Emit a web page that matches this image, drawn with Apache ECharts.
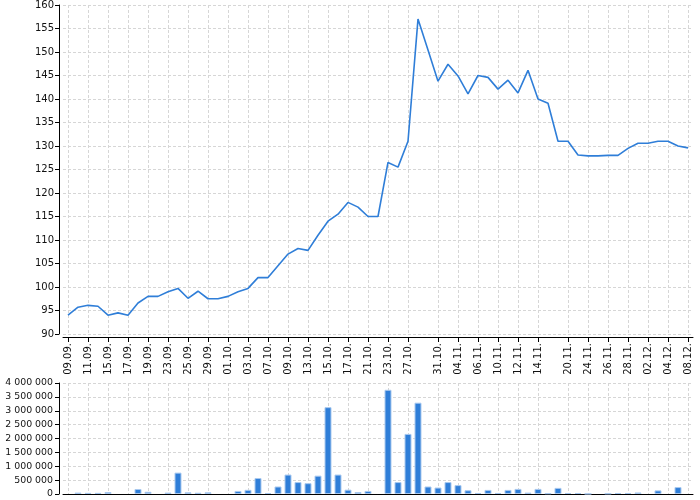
<!DOCTYPE html>
<html>
<head>
<meta charset="utf-8">
<script src="https://cdn.jsdelivr.net/npm/echarts@6/dist/echarts.min.js"></script>
<style>html,body{margin:0;padding:0;background:#fff}#c{width:700px;height:500px}</style>
</head>
<body>
<div id="c"></div>
<script>
const dates = ['09.09.','10.09.','11.09.','12.09.','15.09.','16.09.','17.09.','18.09.','19.09.','22.09.',
  '23.09.','24.09.','25.09.','26.09.','29.09.','30.09.','01.10.','02.10.','03.10.','06.10.',
  '07.10.','08.10.','09.10.','10.10.','13.10.','14.10.','15.10.','16.10.','17.10.','20.10.',
  '21.10.','22.10.','23.10.','24.10.','27.10.','29.10.','30.10.','31.10.','03.11.','04.11.',
  '05.11.','06.11.','07.11.','10.11.','11.11.','12.11.','13.11.','14.11.','18.11.','19.11.',
  '20.11.','21.11.','24.11.','25.11.','26.11.','27.11.','28.11.','01.12.','02.12.','03.12.',
  '04.12.','05.12.','08.12.'];
const tickLabels = ['09.09.','11.09.','15.09.','17.09.','19.09.','23.09.','25.09.','29.09.','01.10.','03.10.',
  '07.10.','09.10.','13.10.','15.10.','17.10.','21.10.','23.10.','27.10.','31.10.','04.11.',
  '06.11.','10.11.','12.11.','14.11.','20.11.','24.11.','26.11.','28.11.','02.12.','04.12.','08.12.'];
const price = [94.0,95.7,96.1,95.9,94.0,94.5,94.0,96.6,98.0,98.0,
  99.0,99.7,97.6,99.1,97.5,97.5,98.0,99.0,99.7,102.0,
  102.0,104.5,107.0,108.2,107.8,111.0,114.0,115.5,118.0,117.0,
  115.0,115.0,126.5,125.5,131.0,157.0,150.4,143.8,147.4,144.9,
  141.1,145.0,144.6,142.1,144.0,141.3,146.1,140.0,139.1,131.0,
  131.0,128.1,127.9,127.9,128.0,128.0,129.5,130.6,130.6,131.0,
  131.0,130.0,129.6];
const volume = [null,50000,40000,40000,70000,null,null,180000,80000,null,
  50000,770000,60000,45000,60000,null,null,110000,150000,575000,
  35000,270000,700000,430000,390000,660000,3130000,700000,155000,70000,
  110000,null,3755000,430000,2165000,3290000,270000,232000,430000,320000,
  135000,37000,147000,37000,147000,183000,50000,183000,25000,220000,
  35000,35000,10000,null,20000,35000,35000,55000,null,130000,
  null,250000,null];

const shown = (i, v) => tickLabels.indexOf(v) >= 0;
const font = 'DejaVu Sans';
const grid1 = {left: 63, width: 630, top: 5, height: 329};
const grid2 = {left: 63, width: 630, top: 383, height: 111};
const dash = {color: '#d6d6d6', type: [3, 2], width: 1};
const fmtSpace = v => String(v).replace(/\B(?=(\d{3})+(?!\d))/g, ' ');

const chart = echarts.init(document.getElementById('c'), null, {renderer: 'canvas'});
chart.setOption({
  animation: false,
  backgroundColor: '#fff',
  grid: [grid1, grid2],
  xAxis: [{
    type: 'category', gridIndex: 0, data: dates, boundaryGap: true, offset: 3,
    axisLine: {lineStyle: {color: '#000', width: 1}},
    axisTick: {show: true, interval: shown, alignWithLabel: true, length: 5, lineStyle: {color: '#000'}},
    axisLabel: {interval: shown, rotate: 90, margin: 6, color: '#111', fontFamily: font, fontSize: 10},
    splitLine: {show: true, interval: shown, alignWithLabel: true, lineStyle: dash}
  }, {
    type: 'category', gridIndex: 1, data: dates, boundaryGap: true,
    axisLine: {lineStyle: {color: '#000', width: 1}},
    axisTick: {show: false},
    axisLabel: {show: false},
    splitLine: {show: true, interval: shown, alignWithLabel: true, lineStyle: dash}
  }],
  yAxis: [{
    type: 'value', gridIndex: 0, min: 90, max: 160, interval: 5, offset: 4,
    axisLine: {show: true, lineStyle: {color: '#000', width: 1}},
    axisTick: {show: true, length: 4, lineStyle: {color: '#000'}},
    axisLabel: {margin: 5, color: '#111', fontFamily: font, fontSize: 10},
    splitLine: {show: true, lineStyle: dash}
  }, {
    type: 'value', gridIndex: 1, min: 0, max: 4000000, interval: 500000, offset: 4,
    axisLine: {show: true, lineStyle: {color: '#000', width: 1}},
    axisTick: {show: true, length: 4, lineStyle: {color: '#000'}},
    axisLabel: {margin: 6, color: '#111', fontFamily: font, fontSize: 9.4, formatter: fmtSpace},
    splitLine: {show: true, lineStyle: dash}
  }],
  series: [{
    type: 'line', xAxisIndex: 0, yAxisIndex: 0, data: price,
    showSymbol: false, symbol: 'none',
    lineStyle: {color: '#2f7ed8', width: 1.6}
  }, {
    type: 'bar', xAxisIndex: 1, yAxisIndex: 1, data: volume,
    barWidth: 7,
    itemStyle: {color: '#2f7ed8', borderColor: '#a9c9ef', borderWidth: 1}
  }]
});
</script>
</body>
</html>
